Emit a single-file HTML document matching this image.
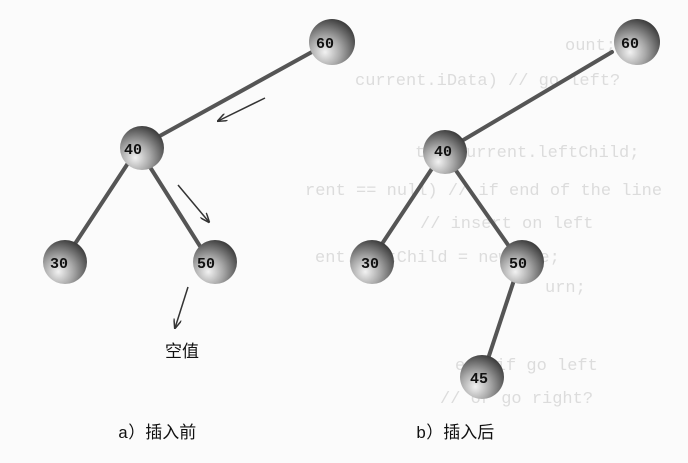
<!DOCTYPE html>
<html><head><meta charset="utf-8"><style>
body{margin:0;background:#fbfbfb;}
svg{display:block}
.code{font-family:"Liberation Mono",monospace;font-size:17px;fill:#dcdcdc}
.n{font-family:"Liberation Mono",monospace;font-weight:bold;font-size:15px;fill:#111}
.c{font-family:"Liberation Mono","Noto Sans CJK SC",monospace;font-size:17px;fill:#111}
</style></head><body>
<svg width="688" height="463" viewBox="0 0 688 463" xmlns="http://www.w3.org/2000/svg">
<defs>
<radialGradient id="g" cx="0.35" cy="0.72" r="0.75">
<stop offset="0" stop-color="#f2f2f2"/><stop offset="0.45" stop-color="#a8a8a8"/><stop offset="1" stop-color="#3e3e3e"/>
</radialGradient>
<marker id="a" markerWidth="10" markerHeight="8" refX="9" refY="4" orient="auto" markerUnits="userSpaceOnUse"><path d="M0,0 L10,4 L0,8" fill="none" stroke="#333" stroke-width="1.5"/></marker>
</defs>
<g class="code">
<text x="565" y="50">ount;</text>
<text x="355" y="85">current.iData)  // go left?</text>
<text x="415" y="157">t = current.leftChild;</text>
<text x="305" y="195">rent == null)  // if end of the line</text>
<text x="420" y="228">//  insert on left</text>
<text x="315" y="262">ent.leftChild = newNode;</text>
<text x="545" y="292">urn;</text>
<text x="455" y="370">end if go left</text>
<text x="440" y="403">// or go right?</text>
</g>
<g stroke="#555" stroke-width="4" stroke-linecap="round">
<line x1="330" y1="42" x2="138" y2="148"/><line x1="138" y1="148" x2="63" y2="262"/><line x1="138" y1="148" x2="210" y2="262"/>
<line x1="612" y1="52" x2="443" y2="152"/><line x1="443" y1="152" x2="370" y2="262"/><line x1="443" y1="152" x2="520" y2="262"/><line x1="520" y1="262" x2="482" y2="377"/>
</g>
<g stroke="#333" stroke-width="1.5" marker-end="url(#a)">
<line x1="265" y1="98" x2="218" y2="121"/>
<line x1="178" y1="185" x2="209" y2="222"/>
<line x1="188" y1="287" x2="175" y2="328"/>
</g>
<g fill="url(#g)">
<circle cx="332" cy="42" r="23"/><circle cx="142" cy="148" r="22"/><circle cx="65" cy="262" r="22"/><circle cx="215" cy="262" r="22"/>
<circle cx="637" cy="42" r="23"/><circle cx="445" cy="152" r="22"/><circle cx="372" cy="262" r="22"/><circle cx="522" cy="262" r="22"/><circle cx="482" cy="377" r="22"/>
</g>
<g class="n" text-anchor="middle">
<text x="325" y="48">60</text><text x="133" y="154">40</text><text x="59" y="268">30</text><text x="206" y="268">50</text>
<text x="630" y="48">60</text><text x="443" y="156">40</text><text x="370" y="268">30</text><text x="518" y="268">50</text><text x="479" y="383">45</text>
</g>
<text class="c" x="165" y="357">空值</text>
<text class="c" x="118" y="438">a）插入前</text>
<text class="c" x="416" y="438">b）插入后</text>
</svg>
</body></html>
